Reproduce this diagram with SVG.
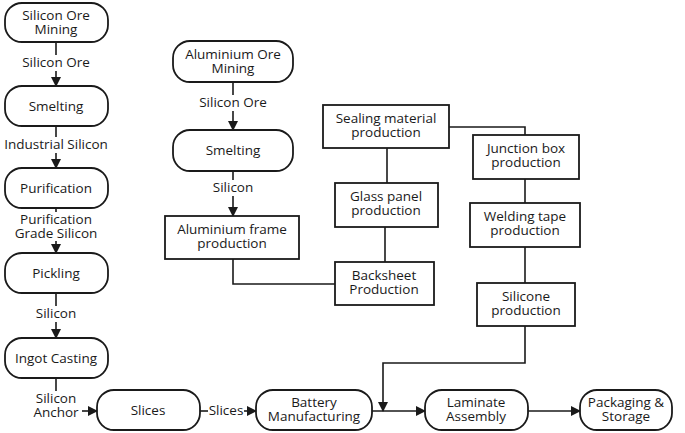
<svg xmlns="http://www.w3.org/2000/svg" width="685" height="433" viewBox="0 0 685 433">
<defs>
<marker id="arr" markerWidth="10" markerHeight="10" refX="9" refY="5" orient="auto" markerUnits="userSpaceOnUse">
<path d="M0,0 L10,5 L0,10 Z" fill="#1a1a1a"/>
</marker>
<style>
.n{fill:#fff;stroke:#1a1a1a;stroke-width:1.8}
.c{fill:none;stroke:#1a1a1a;stroke-width:1.6}
text{font-family:"Open Sans","Noto Sans","DejaVu Sans",sans-serif;font-size:13.5px;fill:#1a1a1a;text-anchor:middle}
</style>
</defs>
<rect width="685" height="433" fill="#fff"/>
<g id="connectors">
<line class="c" x1="56" y1="42" x2="56" y2="55"/>
<line class="c" x1="56" y1="71" x2="56" y2="86" marker-end="url(#arr)"/>
<line class="c" x1="56" y1="126" x2="56" y2="137"/>
<line class="c" x1="56" y1="153" x2="56" y2="168" marker-end="url(#arr)"/>
<line class="c" x1="56" y1="208" x2="56" y2="212"/>
<line class="c" x1="56" y1="241" x2="56" y2="253" marker-end="url(#arr)"/>
<line class="c" x1="56" y1="293" x2="56" y2="306"/>
<line class="c" x1="56" y1="322" x2="56" y2="338" marker-end="url(#arr)"/>
<line class="c" x1="56" y1="378" x2="56" y2="391"/>
<line class="c" x1="82" y1="411" x2="97" y2="411" marker-end="url(#arr)"/>
<line class="c" x1="200" y1="411" x2="208" y2="411"/>
<line class="c" x1="244" y1="411" x2="256" y2="411" marker-end="url(#arr)"/>
<line class="c" x1="372" y1="411" x2="425" y2="411" marker-end="url(#arr)"/>
<line class="c" x1="528" y1="411" x2="580" y2="411" marker-end="url(#arr)"/>
<line class="c" x1="233" y1="82" x2="233" y2="95"/>
<line class="c" x1="233" y1="111" x2="233" y2="130" marker-end="url(#arr)"/>
<line class="c" x1="233" y1="171" x2="233" y2="180"/>
<line class="c" x1="233" y1="196" x2="233" y2="216" marker-end="url(#arr)"/>
<polyline class="c" points="233,259 233,284 335,284"/>
<line class="c" x1="387" y1="148" x2="387" y2="183"/>
<line class="c" x1="385" y1="227" x2="385" y2="262"/>
<polyline class="c" points="449,127 525,127 525,135"/>
<line class="c" x1="525" y1="179" x2="525" y2="203"/>
<line class="c" x1="525" y1="247" x2="525" y2="283"/>
<polyline class="c" points="525,326 525,363 383,363 383,411" marker-end="url(#arr)"/>
</g>
<g id="labels">
<text x="56" y="67">Silicon Ore</text>
<text x="56" y="149">Industrial Silicon</text>
<text x="56" y="224">Purification</text>
<text x="56" y="238">Grade Silicon</text>
<text x="56" y="318">Silicon</text>
<text x="56" y="403">Silicon</text>
<text x="56" y="417">Anchor</text>
<text x="226" y="415">Slices</text>
<text x="233" y="107">Silicon Ore</text>
<text x="233" y="192">Silicon</text>
</g>
<g id="n1"><rect class="n" x="5" y="3" width="103" height="39" rx="17"/><text x="56" y="20">Silicon Ore</text><text x="56" y="34">Mining</text></g>
<g id="n2"><rect class="n" x="5" y="86" width="103" height="40" rx="17"/><text x="56" y="111">Smelting</text></g>
<g id="n3"><rect class="n" x="5" y="168" width="103" height="40" rx="17"/><text x="56" y="193">Purification</text></g>
<g id="n4"><rect class="n" x="5" y="253" width="103" height="40" rx="17"/><text x="56" y="278">Pickling</text></g>
<g id="n5"><rect class="n" x="5" y="338" width="103" height="40" rx="17"/><text x="56" y="363">Ingot Casting</text></g>
<g id="n6"><rect class="n" x="97" y="390" width="103" height="40" rx="17"/><text x="148" y="415">Slices</text></g>
<g id="n7"><rect class="n" x="256" y="390" width="116" height="40" rx="17"/><text x="314" y="407">Battery</text><text x="314" y="421">Manufacturing</text></g>
<g id="n8"><rect class="n" x="425" y="390" width="103" height="40" rx="17"/><text x="476" y="407">Laminate</text><text x="476" y="421">Assembly</text></g>
<g id="n9"><rect class="n" x="580" y="390" width="92" height="40" rx="17"/><text x="626" y="407">Packaging &amp;</text><text x="626" y="421">Storage</text></g>
<g id="n10"><rect class="n" x="173" y="41" width="120" height="41" rx="17"/><text x="233" y="59">Aluminium Ore</text><text x="233" y="73">Mining</text></g>
<g id="n11"><rect class="n" x="173" y="130" width="120" height="41" rx="17"/><text x="233" y="155">Smelting</text></g>
<g id="n12"><rect class="n" x="165" y="216" width="134" height="43"/><text x="232" y="234">Aluminium frame</text><text x="232" y="248">production</text></g>
<g id="n13"><rect class="n" x="323" y="105" width="126" height="43"/><text x="386" y="123">Sealing material</text><text x="386" y="137">production</text></g>
<g id="n14"><rect class="n" x="335" y="183" width="103" height="44"/><text x="386" y="201">Glass panel</text><text x="386" y="215">production</text></g>
<g id="n15"><rect class="n" x="335" y="262" width="99" height="43"/><text x="384" y="280">Backsheet</text><text x="384" y="294">Production</text></g>
<g id="n16"><rect class="n" x="473" y="135" width="106" height="44"/><text x="526" y="153">Junction box</text><text x="526" y="167">production</text></g>
<g id="n17"><rect class="n" x="470" y="203" width="110" height="44"/><text x="525" y="221">Welding tape</text><text x="525" y="235">production</text></g>
<g id="n18"><rect class="n" x="477" y="283" width="98" height="43"/><text x="526" y="301">Silicone</text><text x="526" y="315">production</text></g>
</svg>
